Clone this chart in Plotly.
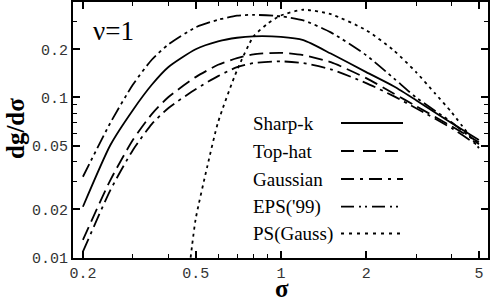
import plotly.graph_objects as go

# sigma grid (shared by the four smoothed-filter curves)
sigma = [0.2, 0.25, 0.3, 0.35, 0.4, 0.5, 0.6, 0.7, 0.8, 1.0, 1.2, 1.5, 2.0, 2.5, 3.0, 4.0, 5.0]

sharp_k  = [0.0208, 0.0505, 0.0833, 0.1200, 0.1545, 0.200, 0.224, 0.236, 0.241, 0.239, 0.228, 0.188, 0.144, 0.1175, 0.0962, 0.0692, 0.0542]
top_hat  = [0.0129, 0.0305, 0.0542, 0.0787, 0.1004, 0.134, 0.160, 0.176, 0.186, 0.190, 0.1835, 0.166, 0.132, 0.106, 0.0883, 0.0662, 0.0526]
gaussian = [0.0109, 0.0264, 0.0469, 0.0682, 0.0857, 0.1127, 0.136, 0.1545, 0.164, 0.168, 0.164, 0.150, 0.123, 0.102, 0.0857, 0.0644, 0.0497]
eps99    = [0.0320, 0.0695, 0.1200, 0.172, 0.214, 0.274, 0.3055, 0.324, 0.328, 0.321, 0.303, 0.255, 0.1835, 0.132, 0.100, 0.0701, 0.0511]

sigma_ps = [0.48, 0.5, 0.55, 0.6, 0.7, 0.8, 0.9, 1.0, 1.2, 1.5, 2.0, 2.5, 3.0, 3.5, 4.0, 5.0]
ps_gauss = [0.0100, 0.0174, 0.0373, 0.0701, 0.148, 0.240, 0.290, 0.325, 0.353, 0.331, 0.263, 0.197, 0.144, 0.106, 0.081, 0.0483]

series_names = ["Sharp-k", "Top-hat", "Gaussian", "EPS('99)", "PS(Gauss)"]
x_tickvals = [0.2, 0.5, 1, 2, 5]
x_ticktext = ["0.2", "0.5", "1", "2", "5"]
x_minor = [0.3, 0.4, 0.6, 0.7, 0.8, 0.9, 3, 4]
y_tickvals = [0.01, 0.02, 0.05, 0.1, 0.2]
y_ticktext = ["0.01", "0.02", "0.05", "0.1", "0.2"]
y_minor = [0.03, 0.04, 0.06, 0.07, 0.08, 0.09, 0.3]

dashes = ["solid", "14px,6px", "14px,5px,3px,5px", "14px,4px,3px,4px,3px,4px", "3px,4px"]
legend_dashes = ["solid", "13px,9px", "13px,6px,3px,6px", "13px,5px,2px,4px,2px,5px", "3px,5px"]

SERIF = "Liberation Serif, Times New Roman, serif"
MONO = "Courier New, Liberation Mono, monospace"

xs = [sigma, sigma, sigma, sigma, sigma_ps]
ys = [sharp_k, top_hat, gaussian, eps99, ps_gauss]

fig = go.Figure()
for name, x, y, d in zip(series_names, xs, ys, dashes):
    fig.add_trace(go.Scatter(x=x, y=y, mode="lines", name=name,
                             line=dict(color="black", width=1.8, dash=d, shape="spline", smoothing=0.6),
                             showlegend=False))

W, H = 490, 301
L, R, T, B = 73, 2, 2, 43
pw, ph = W - L - R, H - T - B

def px(xp):
    return (xp - L) / pw

def py(yp):
    return (H - B - yp) / ph

# manual legend: text on the left, line sample on the right
row_y = [123, 151, 179, 206.7, 233.5]
shapes = []
annotations = []
for name, d, ry in zip(series_names, legend_dashes, row_y):
    annotations.append(dict(x=px(251), y=py(ry), xref="paper", yref="paper", text=name,
                            showarrow=False, xanchor="left", yanchor="middle",
                            font=dict(family=SERIF, size=19, color="black")))
    shapes.append(dict(type="line", xref="paper", yref="paper", x0=px(341), x1=px(403),
                       y0=py(ry), y1=py(ry), line=dict(color="black", width=1.8, dash=d)))

annotations.append(dict(x=px(113), y=py(31), xref="paper", yref="paper", text="ν=1",
                        showarrow=False, xanchor="center", yanchor="middle",
                        font=dict(family=SERIF, size=27, color="black")))
annotations.append(dict(x=px(15), y=py(128), xref="paper", yref="paper", text="<b>dg/dσ</b>",
                        showarrow=False, xanchor="center", yanchor="middle", textangle=-90,
                        font=dict(family=SERIF, size=25, color="black")))
annotations.append(dict(x=px(282), y=py(288), xref="paper", yref="paper", text="<b>σ</b>",
                        showarrow=False, xanchor="center", yanchor="middle",
                        font=dict(family=SERIF, size=25, color="black")))

tick_font = dict(family=MONO, size=15, color="#333")

axis_common = dict(showline=True, linecolor="black", linewidth=2, mirror="allticks",
                   ticks="inside", ticklen=7, tickwidth=1.5, tickcolor="black",
                   showgrid=False, zeroline=False, automargin=False)

fig.update_layout(
    width=W, height=H,
    margin=dict(l=L, r=R, t=T, b=B, autoexpand=False),
    paper_bgcolor="white", plot_bgcolor="white",
    font=dict(family=MONO, size=15, color="#333"),
    xaxis=dict(type="log", range=[-0.734, 0.731], tickvals=x_tickvals, ticktext=x_ticktext,
               minor=dict(tickvals=x_minor, ticks="inside", ticklen=4, tickcolor="black", tickwidth=1.2),
               **axis_common),
    yaxis=dict(type="log", range=[-2.002, -0.404], tickvals=y_tickvals, ticktext=y_ticktext,
               minor=dict(tickvals=y_minor, ticks="inside", ticklen=4, tickcolor="black", tickwidth=1.2),
               **axis_common),
    shapes=shapes,
    annotations=annotations,
)
fig.update_xaxes(tickfont=tick_font)
fig.update_yaxes(tickfont=tick_font)

fig.write_html("out.html", config={"displayModeBar": False},
               post_script="document.body.style.margin='0px';document.body.style.padding='0px';")
